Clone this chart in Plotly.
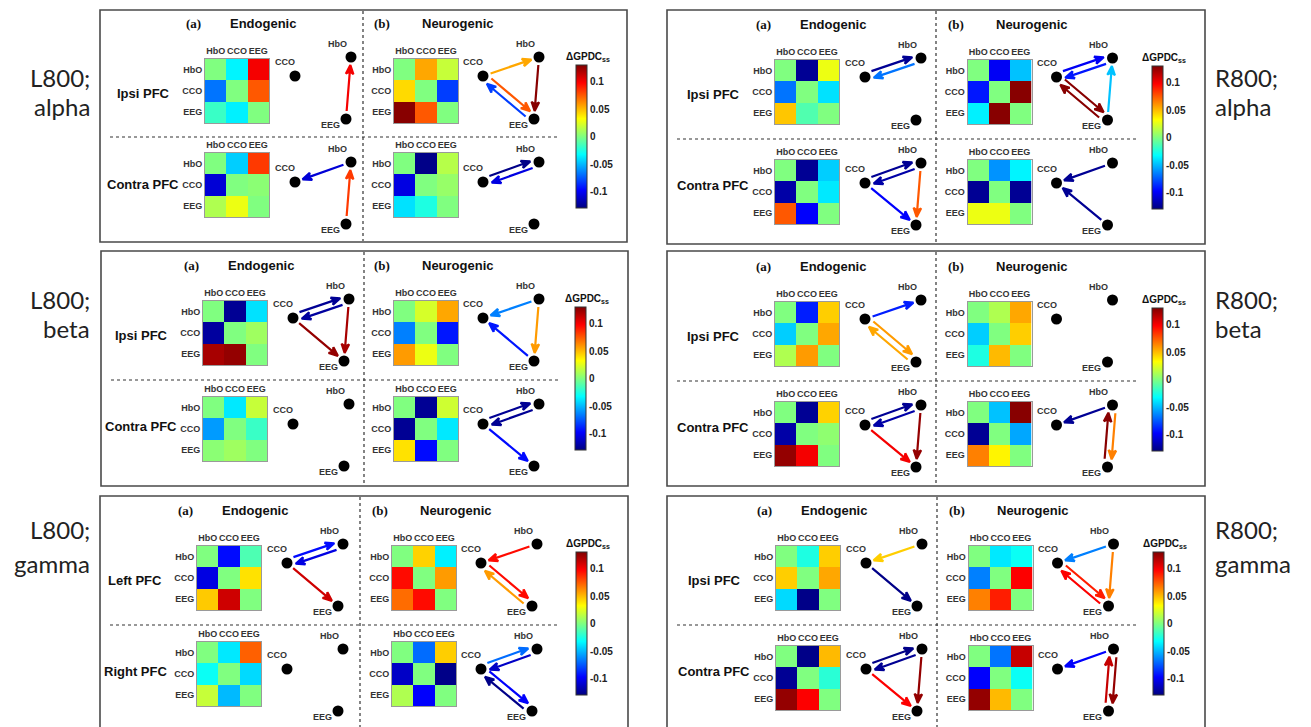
import math
import plotly.graph_objects as go
from plotly.colors import sample_colorscale

W, H = 1311, 727
CH = ["HbO", "CCO", "EEG"]  # row = receiving channel, column = sending channel
ZMIN, ZMAX = -0.13, 0.13
CB_TICKS = [0.1, 0.05, 0, -0.05, -0.1]
CB_TEXT = ["0.1", "0.05", "0", "-0.05", "-0.1"]
JET = [[0.0, "rgb(0,0,128)"], [0.125, "rgb(0,0,255)"], [0.375, "rgb(0,255,255)"],
       [0.625, "rgb(255,255,0)"], [0.875, "rgb(255,0,0)"], [1.0, "rgb(128,0,0)"]]

# ---- ΔGPDCss matrices -------------------------------------------------------
l800_alpha_endo_ipsi = [[0.0, -0.035, 0.100], [-0.068, 0.0, 0.075], [-0.018, -0.036, 0.0]]
l800_alpha_endo_contra = [[0.0, -0.045, 0.083], [-0.108, 0.0, 0.003], [0.012, 0.028, 0.0]]
l800_alpha_neuro_ipsi = [[0.0, 0.055, 0.018], [0.042, 0.0, -0.082], [0.128, 0.075, 0.0]]
l800_alpha_neuro_contra = [[0.0, -0.128, 0.014], [-0.105, 0.0, 0.006], [-0.040, -0.025, 0.0]]

r800_alpha_endo_ipsi = [[0.0, -0.125, 0.028], [-0.068, 0.0, -0.040], [0.047, -0.012, 0.0]]
r800_alpha_endo_contra = [[0.0, -0.125, -0.045], [-0.120, 0.0, -0.038], [0.075, -0.098, 0.0]]
r800_alpha_neuro_ipsi = [[0.0, -0.100, -0.048], [-0.092, 0.0, 0.128], [-0.036, 0.128, 0.0]]
r800_alpha_neuro_contra = [[0.0, -0.060, -0.035], [-0.125, 0.0, -0.125], [0.028, 0.028, 0.0]]

l800_beta_endo_ipsi = [[0.0, -0.125, -0.040], [-0.122, 0.0, 0.008], [0.120, 0.125, 0.0]]
l800_beta_endo_contra = [[0.0, -0.038, 0.018], [-0.058, 0.0, -0.018], [0.003, 0.008, 0.0]]
l800_beta_neuro_ipsi = [[0.0, 0.022, 0.055], [-0.065, 0.0, -0.092], [0.058, 0.028, 0.0]]
l800_beta_neuro_contra = [[0.0, -0.125, 0.020], [-0.125, 0.0, -0.038], [0.040, -0.095, 0.0]]

r800_beta_endo_ipsi = [[0.0, -0.090, 0.045], [-0.045, 0.0, 0.055], [0.012, 0.058, 0.0]]
r800_beta_endo_contra = [[0.0, -0.125, 0.044], [-0.120, 0.0, 0.004], [0.125, 0.100, 0.0]]
r800_beta_neuro_ipsi = [[0.0, 0.012, 0.055], [-0.045, 0.0, 0.045], [-0.025, 0.050, 0.0]]
r800_beta_neuro_contra = [[0.0, -0.048, 0.128], [-0.125, 0.0, -0.055], [0.065, 0.035, 0.0]]

l800_gamma_endo_left = [[0.0, -0.095, -0.013], [-0.105, 0.0, 0.040], [0.046, 0.110, 0.0]]
l800_gamma_endo_right = [[0.0, -0.038, 0.073], [-0.030, 0.0, -0.042], [0.018, -0.050, 0.0]]
l800_gamma_neuro_left = [[0.0, 0.044, -0.036], [0.095, 0.0, 0.058], [0.070, 0.095, 0.0]]
l800_gamma_neuro_right = [[0.0, -0.070, 0.045], [-0.112, 0.0, -0.128], [0.012, -0.098, 0.0]]

r800_gamma_endo_ipsi = [[0.0, -0.025, 0.045], [0.045, 0.0, 0.055], [-0.042, -0.128, 0.0]]
r800_gamma_endo_contra = [[0.0, -0.128, 0.050], [-0.125, 0.0, -0.022], [0.125, 0.098, 0.0]]
r800_gamma_neuro_ipsi = [[0.0, -0.038, -0.030], [-0.065, 0.0, 0.098], [0.065, 0.090, 0.0]]
r800_gamma_neuro_contra = [[0.0, -0.068, 0.112], [-0.098, 0.0, -0.030], [0.125, 0.050, 0.0]]

# ---- significant directed links (source, target) -----------------------------
l800_alpha_endo_ipsi_links = [("EEG", "HbO")]
l800_alpha_endo_contra_links = [("HbO", "CCO"), ("EEG", "HbO")]
l800_alpha_neuro_ipsi_links = [("CCO", "HbO"), ("HbO", "EEG"), ("CCO", "EEG"), ("EEG", "CCO")]
l800_alpha_neuro_contra_links = [("CCO", "HbO"), ("HbO", "CCO")]

r800_alpha_endo_ipsi_links = [("CCO", "HbO"), ("HbO", "CCO")]
r800_alpha_endo_contra_links = [("CCO", "HbO"), ("HbO", "CCO"), ("CCO", "EEG"), ("HbO", "EEG")]
r800_alpha_neuro_ipsi_links = [("CCO", "HbO"), ("HbO", "CCO"), ("CCO", "EEG"), ("EEG", "CCO"), ("EEG", "HbO")]
r800_alpha_neuro_contra_links = [("HbO", "CCO"), ("EEG", "CCO")]

l800_beta_endo_ipsi_links = [("CCO", "HbO"), ("HbO", "CCO"), ("CCO", "EEG"), ("HbO", "EEG")]
l800_beta_endo_contra_links = []
l800_beta_neuro_ipsi_links = [("HbO", "CCO"), ("EEG", "CCO"), ("HbO", "EEG")]
l800_beta_neuro_contra_links = [("CCO", "HbO"), ("HbO", "CCO"), ("CCO", "EEG")]

r800_beta_endo_ipsi_links = [("CCO", "HbO"), ("CCO", "EEG"), ("EEG", "CCO")]
r800_beta_endo_contra_links = [("CCO", "HbO"), ("HbO", "CCO"), ("CCO", "EEG"), ("HbO", "EEG")]
r800_beta_neuro_ipsi_links = []
r800_beta_neuro_contra_links = [("HbO", "CCO"), ("EEG", "HbO"), ("HbO", "EEG")]

l800_gamma_endo_left_links = [("CCO", "HbO"), ("HbO", "CCO"), ("CCO", "EEG")]
l800_gamma_endo_right_links = []
l800_gamma_neuro_left_links = [("HbO", "CCO"), ("CCO", "EEG"), ("EEG", "CCO")]
l800_gamma_neuro_right_links = [("CCO", "HbO"), ("HbO", "CCO"), ("CCO", "EEG"), ("EEG", "CCO")]

r800_gamma_endo_ipsi_links = [("HbO", "CCO"), ("CCO", "EEG")]
r800_gamma_endo_contra_links = [("CCO", "HbO"), ("HbO", "CCO"), ("CCO", "EEG"), ("HbO", "EEG")]
r800_gamma_neuro_ipsi_links = [("HbO", "CCO"), ("CCO", "EEG"), ("EEG", "CCO"), ("HbO", "EEG")]
r800_gamma_neuro_contra_links = [("HbO", "CCO"), ("EEG", "HbO"), ("HbO", "EEG")]

# ---- panel geometry (pixels) ---------------------------------------------------
TPL = dict(
    a=(93, 13), endo_title=(163, 13), b=(282, 13), neuro_title=(358, 13),
    heat_x=(105, 169), neuro_dx=189,
    heat_ipsi_y=(49, 113), heat_contra_y=(143, 207),
    group_x=43, group_y=(83, 174),
    nodes=({"CCO": (195, 66), "HbO": (251, 47), "EEG": (246, 109)},
           {"CCO": (195, 172), "HbO": (251, 152), "EEG": (246, 214)}),
    cb=(476, 55, 143),
)

PANELS = [
    dict(label=("L800;", "alpha"), side="L", groups=("Ipsi PFC", "Contra PFC"),
         data=((l800_alpha_endo_ipsi, l800_alpha_endo_ipsi_links), (l800_alpha_endo_contra, l800_alpha_endo_contra_links),
               (l800_alpha_neuro_ipsi, l800_alpha_neuro_ipsi_links), (l800_alpha_neuro_contra, l800_alpha_neuro_contra_links)),
         org=(100, 10), box=(100, 10, 627, 242), vdash=363, hdash=(137, 110, 560), ndx=0, hcdy=0, cbdx=0, ly=(77, 106)),
    dict(label=("R800;", "alpha"), side="R", groups=("Ipsi PFC", "Contra PFC"),
         data=((r800_alpha_endo_ipsi, r800_alpha_endo_ipsi_links), (r800_alpha_endo_contra, r800_alpha_endo_contra_links),
               (r800_alpha_neuro_ipsi, r800_alpha_neuro_ipsi_links), (r800_alpha_neuro_contra, r800_alpha_neuro_contra_links)),
         org=(670, 11), box=(667, 10, 1205, 244), vdash=936, hdash=(139, 677, 1137), ndx=3.5, hcdy=6, cbdx=6, ly=(77, 106)),
    dict(label=("L800;", "beta"), side="L", groups=("Ipsi PFC", "Contra PFC"),
         data=((l800_beta_endo_ipsi, l800_beta_endo_ipsi_links), (l800_beta_endo_contra, l800_beta_endo_contra_links),
               (l800_beta_neuro_ipsi, l800_beta_neuro_ipsi_links), (l800_beta_neuro_contra, l800_beta_neuro_contra_links)),
         org=(98, 252), box=(101, 251, 628, 486), vdash=364, hdash=(380, 111, 560), ndx=2, hcdy=2, cbdx=1, ly=(299, 328)),
    dict(label=("R800;", "beta"), side="R", groups=("Ipsi PFC", "Contra PFC"),
         data=((r800_beta_endo_ipsi, r800_beta_endo_ipsi_links), (r800_beta_endo_contra, r800_beta_endo_contra_links),
               (r800_beta_neuro_ipsi, r800_beta_neuro_ipsi_links), (r800_beta_neuro_contra, r800_beta_neuro_contra_links)),
         org=(670, 253), box=(667, 251, 1205, 486), vdash=936, hdash=(381, 677, 1137), ndx=3.5, hcdy=6, cbdx=6, ly=(299, 328)),
    dict(label=("L800;", "gamma"), side="L", groups=("Left PFC", "Right PFC"),
         data=((l800_gamma_endo_left, l800_gamma_endo_left_links), (l800_gamma_endo_right, l800_gamma_endo_right_links),
               (l800_gamma_neuro_left, l800_gamma_neuro_left_links), (l800_gamma_neuro_right, l800_gamma_neuro_right_links)),
         org=(92, 497), box=(100, 496, 628, 745), vdash=360, hdash=(625, 110, 560), ndx=6, hcdy=2, cbdx=8, ly=(529, 563)),
    dict(label=("R800;", "gamma"), side="R", groups=("Ipsi PFC", "Contra PFC"),
         data=((r800_gamma_endo_ipsi, r800_gamma_endo_ipsi_links), (r800_gamma_endo_contra, r800_gamma_endo_contra_links),
               (r800_gamma_neuro_ipsi, r800_gamma_neuro_ipsi_links), (r800_gamma_neuro_contra, r800_gamma_neuro_contra_links)),
         org=(671, 497), box=(667, 496, 1205, 745), vdash=937, hdash=(625, 677, 1137), ndx=3.5, hcdy=6, cbdx=6, ly=(529, 563)),
]

BOLD = dict(family="Liberation Sans", weight="bold")
fig = go.Figure()
layout = {}
annotations = []
shapes = []
n_ax = 0
OV = "x25", "y25"  # pixel-space overlay axis for networks and frames


def jet_color(v):
    t = min(max((v - ZMIN) / (ZMAX - ZMIN), 0.0), 1.0)
    return sample_colorscale(JET, [t])[0]


def add_heatmap(z, x0, y0, x1, y1, cax):
    global n_ax
    n_ax += 1
    s = "" if n_ax == 1 else str(n_ax)
    fig.add_trace(go.Heatmap(z=z, x=CH, y=CH, coloraxis=cax, xaxis="x" + s, yaxis="y" + s,
                             hoverinfo="skip"))
    tick = dict(size=9, color="#333", **BOLD)
    layout["xaxis" + s] = dict(domain=[x0 / W, x1 / W], anchor="y" + s, side="top", showgrid=False,
                               zeroline=False, showline=True, mirror=True, linecolor="#9a9a9a",
                               linewidth=1, ticks="", tickangle=0, tickfont=tick, fixedrange=True)
    layout["yaxis" + s] = dict(domain=[1 - y1 / H, 1 - y0 / H], anchor="x" + s, autorange="reversed",
                               showgrid=False, zeroline=False, showline=True, mirror=True,
                               linecolor="#9a9a9a", linewidth=1, ticks="", tickangle=0,
                               tickfont=tick, fixedrange=True)


def text(x, y, s, size, family="Liberation Sans", weight="bold", color="#111", xanchor="center"):
    annotations.append(dict(x=x, y=y, xref=OV[0], yref=OV[1], text=s, showarrow=False,
                            xanchor=xanchor, yanchor="middle",
                            font=dict(size=size, family=family, weight=weight, color=color)))


def add_network(nodes, z, links):
    pairs = set(links)
    for src, dst in links:
        v = z[CH.index(dst)][CH.index(src)]
        col = jet_color(v)
        (sx, sy), (tx, ty) = nodes[src], nodes[dst]
        L = math.hypot(tx - sx, ty - sy)
        dx, dy = (tx - sx) / L, (ty - sy) / L
        nx, ny = dy, -dx
        off = 3.5 if (dst, src) in pairs else 0.0
        ox, oy = nx * off, ny * off
        tail = (sx + dx * 8 + ox, sy + dy * 8 + oy)
        tip = (tx - dx * 8 + ox, ty - dy * 8 + oy)
        hl, hw, notch = 9.0, 3.8, 2.5
        base = (tip[0] - dx * hl, tip[1] - dy * hl)
        nb = (tip[0] - dx * (hl - notch), tip[1] - dy * (hl - notch))
        wl = (base[0] + nx * hw, base[1] + ny * hw)
        wr = (base[0] - nx * hw, base[1] - ny * hw)
        pts = [tail, nb, wl, tip, wr, nb]
        fig.add_trace(go.Scatter(x=[p[0] for p in pts], y=[p[1] for p in pts], mode="lines",
                                 fill="toself", fillcolor=col, line=dict(color=col, width=2.2),
                                 xaxis=OV[0], yaxis=OV[1], hoverinfo="skip", showlegend=False))
    fig.add_trace(go.Scatter(x=[p[0] for p in nodes.values()], y=[p[1] for p in nodes.values()],
                             mode="markers", marker=dict(size=11, color="black"),
                             xaxis=OV[0], yaxis=OV[1], hoverinfo="skip", showlegend=False))
    lab_off = {"CCO": (-10, -14), "HbO": (-14, -13), "EEG": (-16, 6)}
    for name, (x, y) in nodes.items():
        text(x + lab_off[name][0], y + lab_off[name][1], name, 9, color="#333")


for k, P in enumerate(PANELS):
    cax = "coloraxis" + ("" if k == 0 else str(k + 1))
    ox, oy = P["org"]
    bx0, by0, bx1, by1 = P["box"]
    shapes.append(dict(type="rect", xref=OV[0], yref=OV[1], x0=bx0, y0=by0, x1=bx1, y1=by1,
                       line=dict(color="#4a4a4a", width=1.6)))
    shapes.append(dict(type="line", xref=OV[0], yref=OV[1], x0=P["vdash"], x1=P["vdash"],
                       y0=by0 + 1, y1=by1 - 1, line=dict(color="#333", width=1.2, dash="3px,3px")))
    hy, hx0, hx1 = P["hdash"]
    shapes.append(dict(type="line", xref=OV[0], yref=OV[1], x0=hx0, x1=hx1, y0=hy, y1=hy,
                       line=dict(color="#333", width=1.2, dash="3px,3px")))

    text(ox + TPL["a"][0], oy + TPL["a"][1], "(a)", 13, family="Liberation Serif")
    text(ox + TPL["endo_title"][0], oy + TPL["endo_title"][1], "Endogenic", 13)
    text(ox + TPL["b"][0] + P["ndx"], oy + TPL["b"][1], "(b)", 13, family="Liberation Serif")
    text(ox + TPL["neuro_title"][0] + P["ndx"], oy + TPL["neuro_title"][1], "Neurogenic", 13)

    for g in range(2):
        text(ox + TPL["group_x"], oy + TPL["group_y"][g], P["groups"][g], 13)
        hy0, hy1 = TPL["heat_ipsi_y"] if g == 0 else TPL["heat_contra_y"]
        if g == 1:
            hy0, hy1 = hy0 + P["hcdy"], hy1 + P["hcdy"]
        for part in range(2):  # 0 = endogenic, 1 = neurogenic
            z, links = P["data"][part * 2 + g]
            shift = 0 if part == 0 else TPL["neuro_dx"] + P["ndx"]
            add_heatmap(z, ox + TPL["heat_x"][0] + shift, oy + hy0,
                        ox + TPL["heat_x"][1] + shift, oy + hy1, cax)

    cbx, cby, cbl = TPL["cb"]
    layout[cax] = dict(cmin=ZMIN, cmax=ZMAX, colorscale=JET,
                       colorbar=dict(x=(ox + cbx + P["cbdx"]) / W, xanchor="left", xpad=0,
                                     y=1 - (oy + cby) / H, yanchor="top", ypad=0,
                                     len=cbl, lenmode="pixels", thickness=11,
                                     thicknessmode="pixels", outlinewidth=1, outlinecolor="#333",
                                     tickvals=CB_TICKS, ticktext=CB_TEXT, ticks="",
                                     tickfont=dict(size=10, color="#222", **BOLD)))
    text(ox + cbx + P["cbdx"] + 12, oy + cby - 8, "ΔGPDC<sub>ss</sub>", 10)

    # row label
    if P["side"] == "L":
        lx, anchor = 92, "right"
    else:
        lx, anchor = 1213, "left"
    for line, yy in zip(P["label"], P["ly"]):
        text(lx, yy, line, 24, family="Lato", weight="normal", color="#222", xanchor=anchor)

# networks drawn after heatmaps so they share one overlay axis
for P in PANELS:
    ox, oy = P["org"]
    for g in range(2):
        for part in range(2):
            z, links = P["data"][part * 2 + g]
            shift = 0 if part == 0 else 188 + P["ndx"]
            nodes = {n: (ox + xy[0] + shift, oy + xy[1]) for n, xy in TPL["nodes"][g].items()}
            add_network(nodes, z, links)

layout["xaxis25"] = dict(domain=[0, 1], range=[0, W], visible=False, fixedrange=True, anchor="y25")
layout["yaxis25"] = dict(domain=[0, 1], range=[H, 0], visible=False, fixedrange=True, anchor="x25")

fig.update_layout(layout)
fig.update_layout(width=W, height=H, margin=dict(l=0, r=0, t=0, b=0), paper_bgcolor="white",
                  plot_bgcolor="rgba(0,0,0,0)", showlegend=False, annotations=annotations,
                  shapes=shapes)
fig.write_html("out.html")
